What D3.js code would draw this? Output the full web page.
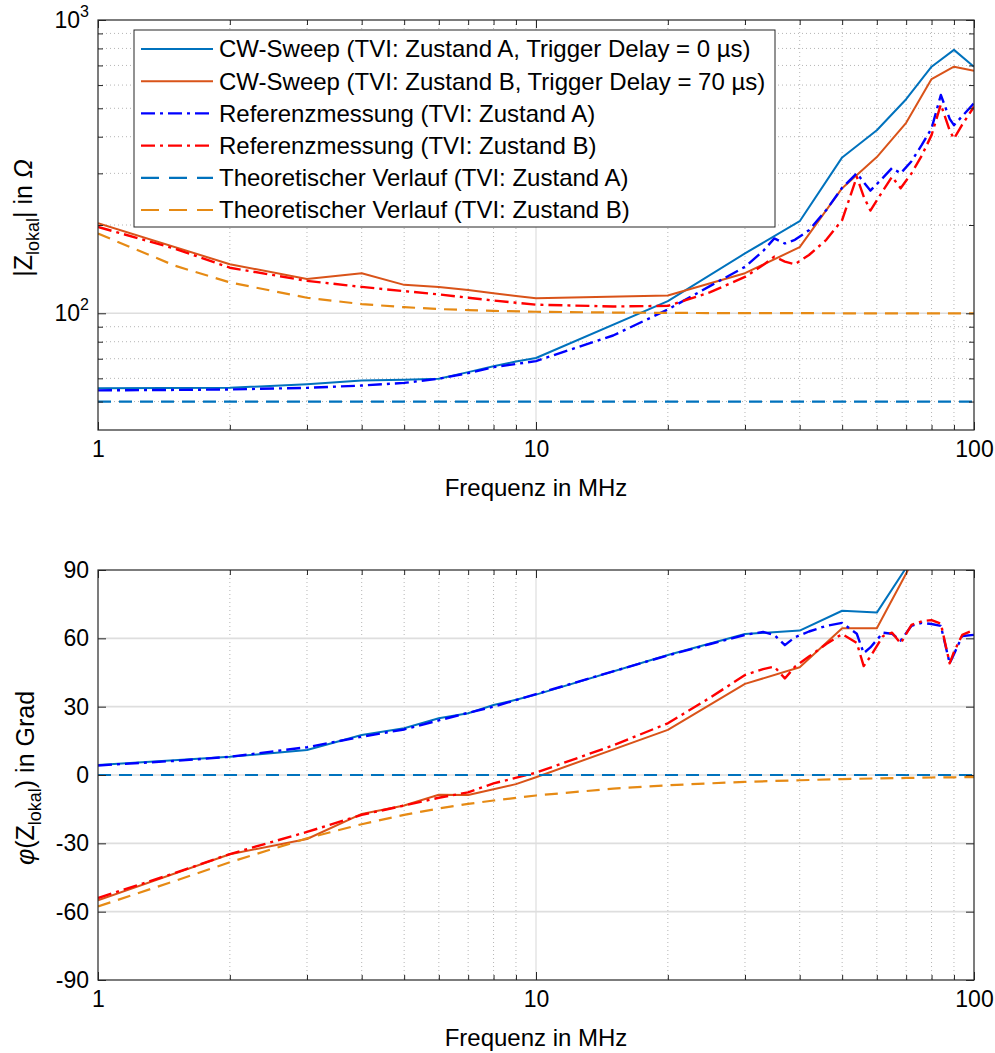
<!DOCTYPE html>
<html>
<head>
<meta charset="utf-8">
<script src="https://cdn.jsdelivr.net/npm/d3@7"></script>
<style>
  body { margin: 0; background: #fff; }
  svg { display: block; font-family: "Liberation Sans", Arial, sans-serif; }
</style>
</head>
<body>
<svg id="chart" width="995" height="1053"></svg>
<script>
// frequency grids (MHz)
const freqCW = [1, 2, 3, 4, 5, 6, 7, 8, 9, 10, 20, 30, 40, 50, 60, 70, 80, 90, 100];
const freqRef = [1, 1.5, 2, 3, 4, 5, 6, 7, 8, 10, 15, 20, 25, 30, 33, 35, 37, 39, 42, 46, 50, 54, 56, 58, 62, 65, 68, 72, 76, 80, 84, 88, 90, 94, 100];
const freqTheo = [1, 1.5, 2, 3, 4, 5, 6, 7, 8, 10, 15, 20, 30, 40, 50, 60, 70, 80, 90, 100];

// |Z| in Ohm
const magCWA = [55.5, 55.7, 57.3, 59.0, 59.3, 59.8, 63.0, 66.0, 68.5, 70.4, 110, 160, 206, 340, 421, 537, 693, 791, 693];
const magCWB = [203, 147, 131, 137, 125, 123, 120, 117, 114.5, 112.5, 115, 137, 168, 267, 341, 446, 629, 693, 671];
const magRefA = [54.6, 54.8, 55.0, 55.7, 56.7, 57.9, 59.8, 62.5, 65.5, 68.7, 84, 103, 124, 144, 163, 180, 173, 178, 192, 225, 268, 300, 280, 262, 290, 313, 300, 330, 375, 427, 555, 460, 438, 470, 520];
const magRefB = [197, 166, 143, 129, 123, 119, 116, 113, 110.5, 107, 105.5, 106, 118, 133, 146, 156, 150, 147, 158, 178, 208, 292, 250, 224, 262, 292, 267, 300, 345, 405, 515, 420, 394, 440, 506];
const magTheoA = [50, 50, 50, 50, 50, 50, 50, 50, 50, 50, 50, 50, 50, 50, 50, 50, 50, 50, 50, 50];
const magTheoB = [187.0, 145.2, 127.4, 113.0, 107.5, 104.9, 103.4, 102.5, 101.9, 101.2, 100.6, 100.3, 100.1, 100.1, 100, 100, 100, 100, 100, 100];

// phase in degrees
const phCWA = [4.4, 8.0, 11.0, 17.6, 20.5, 24.9, 27.1, 30.7, 33.0, 35.3, 52.7, 61.9, 63.4, 72.1, 71.3, 91, 105, 105, 105];
const phCWB = [-55, -34.8, -28.1, -17.1, -13.4, -8.7, -8.8, -6.3, -4.0, -1.0, 19.8, 40.0, 47.3, 64.4, 64.4, 88.5, 110, 110, 110];
const phRefA = [4.2, 6.2, 8.0, 12.2, 16.8, 20.0, 24.0, 27.3, 30.0, 35.5, 45.5, 52.5, 57.5, 61.5, 62.8, 61.5, 57.0, 60.5, 63.0, 65.5, 66.8, 62, 53.5, 56, 62.5, 62, 59, 65.5, 66.8, 66.3, 65.5, 49, 53, 61, 61.5];
const phRefB = [-54, -43, -34.7, -25.0, -17.5, -13.4, -10.0, -7.6, -3.7, 1.0, 13, 22.7, 34, 43.9, 46.5, 47.6, 42.4, 47.5, 52, 57.5, 61.9, 58, 47.8, 52, 61, 62.5, 57.8, 65.9, 67.5, 68, 66.5, 49, 54, 61.5, 63.7];
const phTheoA = [0, 0, 0, 0, 0, 0, 0, 0, 0, 0, 0, 0, 0, 0, 0, 0, 0, 0, 0, 0];
const phTheoB = [-57.7, -46.5, -38.3, -27.8, -21.6, -17.5, -14.7, -12.7, -11.2, -9.0, -6.0, -4.5, -3.0, -2.3, -1.8, -1.5, -1.3, -1.1, -1.0, -0.9];

const legendLabels = [
    "CW-Sweep (TVI: Zustand A, Trigger Delay = 0 µs)",
    "CW-Sweep (TVI: Zustand B, Trigger Delay = 70 µs)",
    "Referenzmessung (TVI: Zustand A)",
    "Referenzmessung (TVI: Zustand B)",
    "Theoretischer Verlauf (TVI: Zustand A)",
    "Theoretischer Verlauf (TVI: Zustand B)"
];

const styles = [
    { color: "#0072BD", width: 2, dash: null },
    { color: "#D95319", width: 2, dash: null },
    { color: "#0000FF", width: 2.4, dash: "14,5,3,5" },
    { color: "#FF0000", width: 2.4, dash: "14,5,3,5" },
    { color: "#0072BD", width: 2.2, dash: "13,8" },
    { color: "#E68A14", width: 2.2, dash: "13,8" }
];

const svg = d3.select("#chart");
const left = 98, right = 974;
const axisColor = "#262626";
const tickFont = 23, labelFont = 24, legendFont = 24;
const x = d3.scaleLog().domain([1, 100]).range([left, right]);
const xMinor = [2, 3, 4, 5, 6, 7, 8, 9, 20, 30, 40, 50, 60, 70, 80, 90];
const plainNum = d => String(d);

const drawPanel = (opt) => {
    const { y, top, bottom, id } = opt;
    const g = svg.append("g");

    g.append("clipPath").attr("id", id)
        .append("rect")
        .attr("x", left).attr("y", top)
        .attr("width", right - left).attr("height", bottom - top);

    // minor grid (dotted)
    g.selectAll(".vminor").data(xMinor).join("line")
        .attr("x1", d => x(d)).attr("x2", d => x(d))
        .attr("y1", top).attr("y2", bottom)
        .attr("stroke", "#b5b5b5").attr("stroke-dasharray", "1,3");
    g.selectAll(".hminor").data(opt.yMinorGrid).join("line")
        .attr("x1", left).attr("x2", right)
        .attr("y1", d => y(d)).attr("y2", d => y(d))
        .attr("stroke", "#b5b5b5").attr("stroke-dasharray", "1,3");

    // major grid
    g.selectAll(".vmajor").data([10]).join("line")
        .attr("x1", d => x(d)).attr("x2", d => x(d))
        .attr("y1", top).attr("y2", bottom)
        .attr("stroke", "#dedede").attr("stroke-width", 1.2);
    g.selectAll(".hmajor").data(opt.yMajorGrid).join("line")
        .attr("x1", left).attr("x2", right)
        .attr("y1", d => y(d)).attr("y2", d => y(d))
        .attr("stroke", "#dedede").attr("stroke-width", 1.6);

    // curves
    const line = d3.line().x(d => x(d[0])).y(d => y(d[1]));
    const plot = g.append("g").attr("clip-path", `url(#${id})`);
    opt.series.forEach((s, i) => {
        const st = styles[i];
        plot.append("path")
            .datum(s.f.map((f, k) => [f, s.v[k]]))
            .attr("d", line)
            .attr("fill", "none")
            .attr("stroke", st.color)
            .attr("stroke-width", st.width)
            .attr("stroke-linejoin", "round")
            .attr("stroke-dasharray", st.dash);
    });

    // axes: inward ticks on all four sides
    const styleAxis = (sel) => {
        sel.select(".domain").remove();
        sel.selectAll("line").attr("stroke", axisColor);
        sel.selectAll("text").attr("fill", "#000").attr("font-size", tickFont)
            .attr("font-family", "'Liberation Sans', Arial, sans-serif");
    };
    g.append("g").attr("transform", `translate(0,${bottom})`)
        .call(d3.axisBottom(x).tickValues([1, 10, 100]).tickFormat(plainNum)
            .tickSizeInner(-8).tickSizeOuter(0).tickPadding(11))
        .call(styleAxis);
    g.append("g").attr("transform", `translate(0,${bottom})`)
        .call(d3.axisBottom(x).tickValues(xMinor).tickFormat("").tickSizeInner(-5).tickSizeOuter(0))
        .call(styleAxis);
    g.append("g").attr("transform", `translate(0,${top})`)
        .call(d3.axisTop(x).tickValues([1, 10, 100]).tickFormat("").tickSizeInner(-8).tickSizeOuter(0))
        .call(styleAxis);
    g.append("g").attr("transform", `translate(0,${top})`)
        .call(d3.axisTop(x).tickValues(xMinor).tickFormat("").tickSizeInner(-5).tickSizeOuter(0))
        .call(styleAxis);

    const yl = g.append("g").attr("transform", `translate(${left},0)`)
        .call(d3.axisLeft(y).tickValues(opt.yMajor).tickFormat(plainNum)
            .tickSizeInner(-8).tickSizeOuter(0).tickPadding(9))
        .call(styleAxis);
    g.append("g").attr("transform", `translate(${right},0)`)
        .call(d3.axisRight(y).tickValues(opt.yMajor).tickFormat("").tickSizeInner(-8).tickSizeOuter(0))
        .call(styleAxis);
    if (opt.yMinorTicks) {
        g.append("g").attr("transform", `translate(${left},0)`)
            .call(d3.axisLeft(y).tickValues(opt.yMinorTicks).tickFormat("").tickSizeInner(-5).tickSizeOuter(0))
            .call(styleAxis);
        g.append("g").attr("transform", `translate(${right},0)`)
            .call(d3.axisRight(y).tickValues(opt.yMinorTicks).tickFormat("").tickSizeInner(-5).tickSizeOuter(0))
            .call(styleAxis);
    }
    if (opt.powerLabels) {
        yl.selectAll(".tick text").each(function (d) {
            const t = d3.select(this).text("");
            t.append("tspan").text("10");
            t.append("tspan").attr("dy", -11).attr("font-size", 16).text(Math.round(Math.log10(d)));
        });
    }

    // box
    g.append("rect")
        .attr("x", left).attr("y", top)
        .attr("width", right - left).attr("height", bottom - top)
        .attr("fill", "none").attr("stroke", axisColor).attr("stroke-width", 1.2);

    // x label
    g.append("text")
        .attr("x", (left + right) / 2).attr("y", bottom + 66)
        .attr("text-anchor", "middle").attr("font-size", labelFont)
        .text("Frequenz in MHz");

    return g;
};

// upper panel: magnitude
const yMag = d3.scaleLog().domain([40, 1000]).range([430, 20]);
drawPanel({
    id: "clipMag", y: yMag, top: 20, bottom: 430,
    yMajor: [100, 1000],
    powerLabels: true,
    yMinorTicks: [50, 60, 70, 80, 90, 200, 300, 400, 500, 600, 700, 800, 900],
    yMinorGrid: [50, 60, 70, 80, 90, 200, 300, 400, 500, 600, 700, 800, 900],
    yMajorGrid: [100],
    series: [
        { f: freqCW, v: magCWA },
        { f: freqCW, v: magCWB },
        { f: freqRef, v: magRefA },
        { f: freqRef, v: magRefB },
        { f: freqTheo, v: magTheoA },
        { f: freqTheo, v: magTheoB }
    ]
});

// lower panel: phase
const yPh = d3.scaleLinear().domain([-90, 90]).range([980, 570]);
drawPanel({
    id: "clipPh", y: yPh, top: 570, bottom: 980,
    yMajor: [-90, -60, -30, 0, 30, 60, 90],
    yMinorGrid: [],
    yMajorGrid: [-60, -30, 0, 30, 60],
    series: [
        { f: freqCW, v: phCWA },
        { f: freqCW, v: phCWB },
        { f: freqRef, v: phRefA },
        { f: freqRef, v: phRefB },
        { f: freqTheo, v: phTheoA },
        { f: freqTheo, v: phTheoB }
    ]
});

// y labels
const magLabel = svg.append("text")
    .attr("transform", "translate(32,218) rotate(-90)")
    .attr("text-anchor", "middle").attr("font-size", 25);
magLabel.append("tspan").text("|Z");
magLabel.append("tspan").attr("font-size", 18).attr("dy", 7).text("lokal");
magLabel.append("tspan").attr("dy", -7).text("| in ");
magLabel.append("tspan").attr("font-style", "italic").text("Ω");

const phLabel = svg.append("text")
    .attr("transform", "translate(34,778) rotate(-90)")
    .attr("text-anchor", "middle").attr("font-size", 25);
phLabel.append("tspan").attr("font-style", "italic").text("φ");
phLabel.append("tspan").text("(Z");
phLabel.append("tspan").attr("font-size", 18).attr("dy", 7).text("lokal");
phLabel.append("tspan").attr("dy", -7).text(") in Grad");

// legend
const legend = svg.append("g");
legend.append("rect")
    .attr("x", 134).attr("y", 30).attr("width", 641).attr("height", 197)
    .attr("fill", "#fff").attr("stroke", axisColor).attr("stroke-width", 1);
const rowY = d3.scalePoint().domain(d3.range(legendLabels.length)).range([49, 210]);
legendLabels.forEach((lab, i) => {
    const st = styles[i];
    legend.append("line")
        .attr("x1", 141).attr("x2", 213)
        .attr("y1", rowY(i)).attr("y2", rowY(i))
        .attr("stroke", st.color).attr("stroke-width", st.width)
        .attr("stroke-dasharray", st.dash === "13,8" ? "18,10" : st.dash);
    legend.append("text")
        .attr("x", 219).attr("y", rowY(i)).attr("dy", "0.35em")
        .attr("font-size", legendFont).text(lab);
});
</script>
</body>
</html>
